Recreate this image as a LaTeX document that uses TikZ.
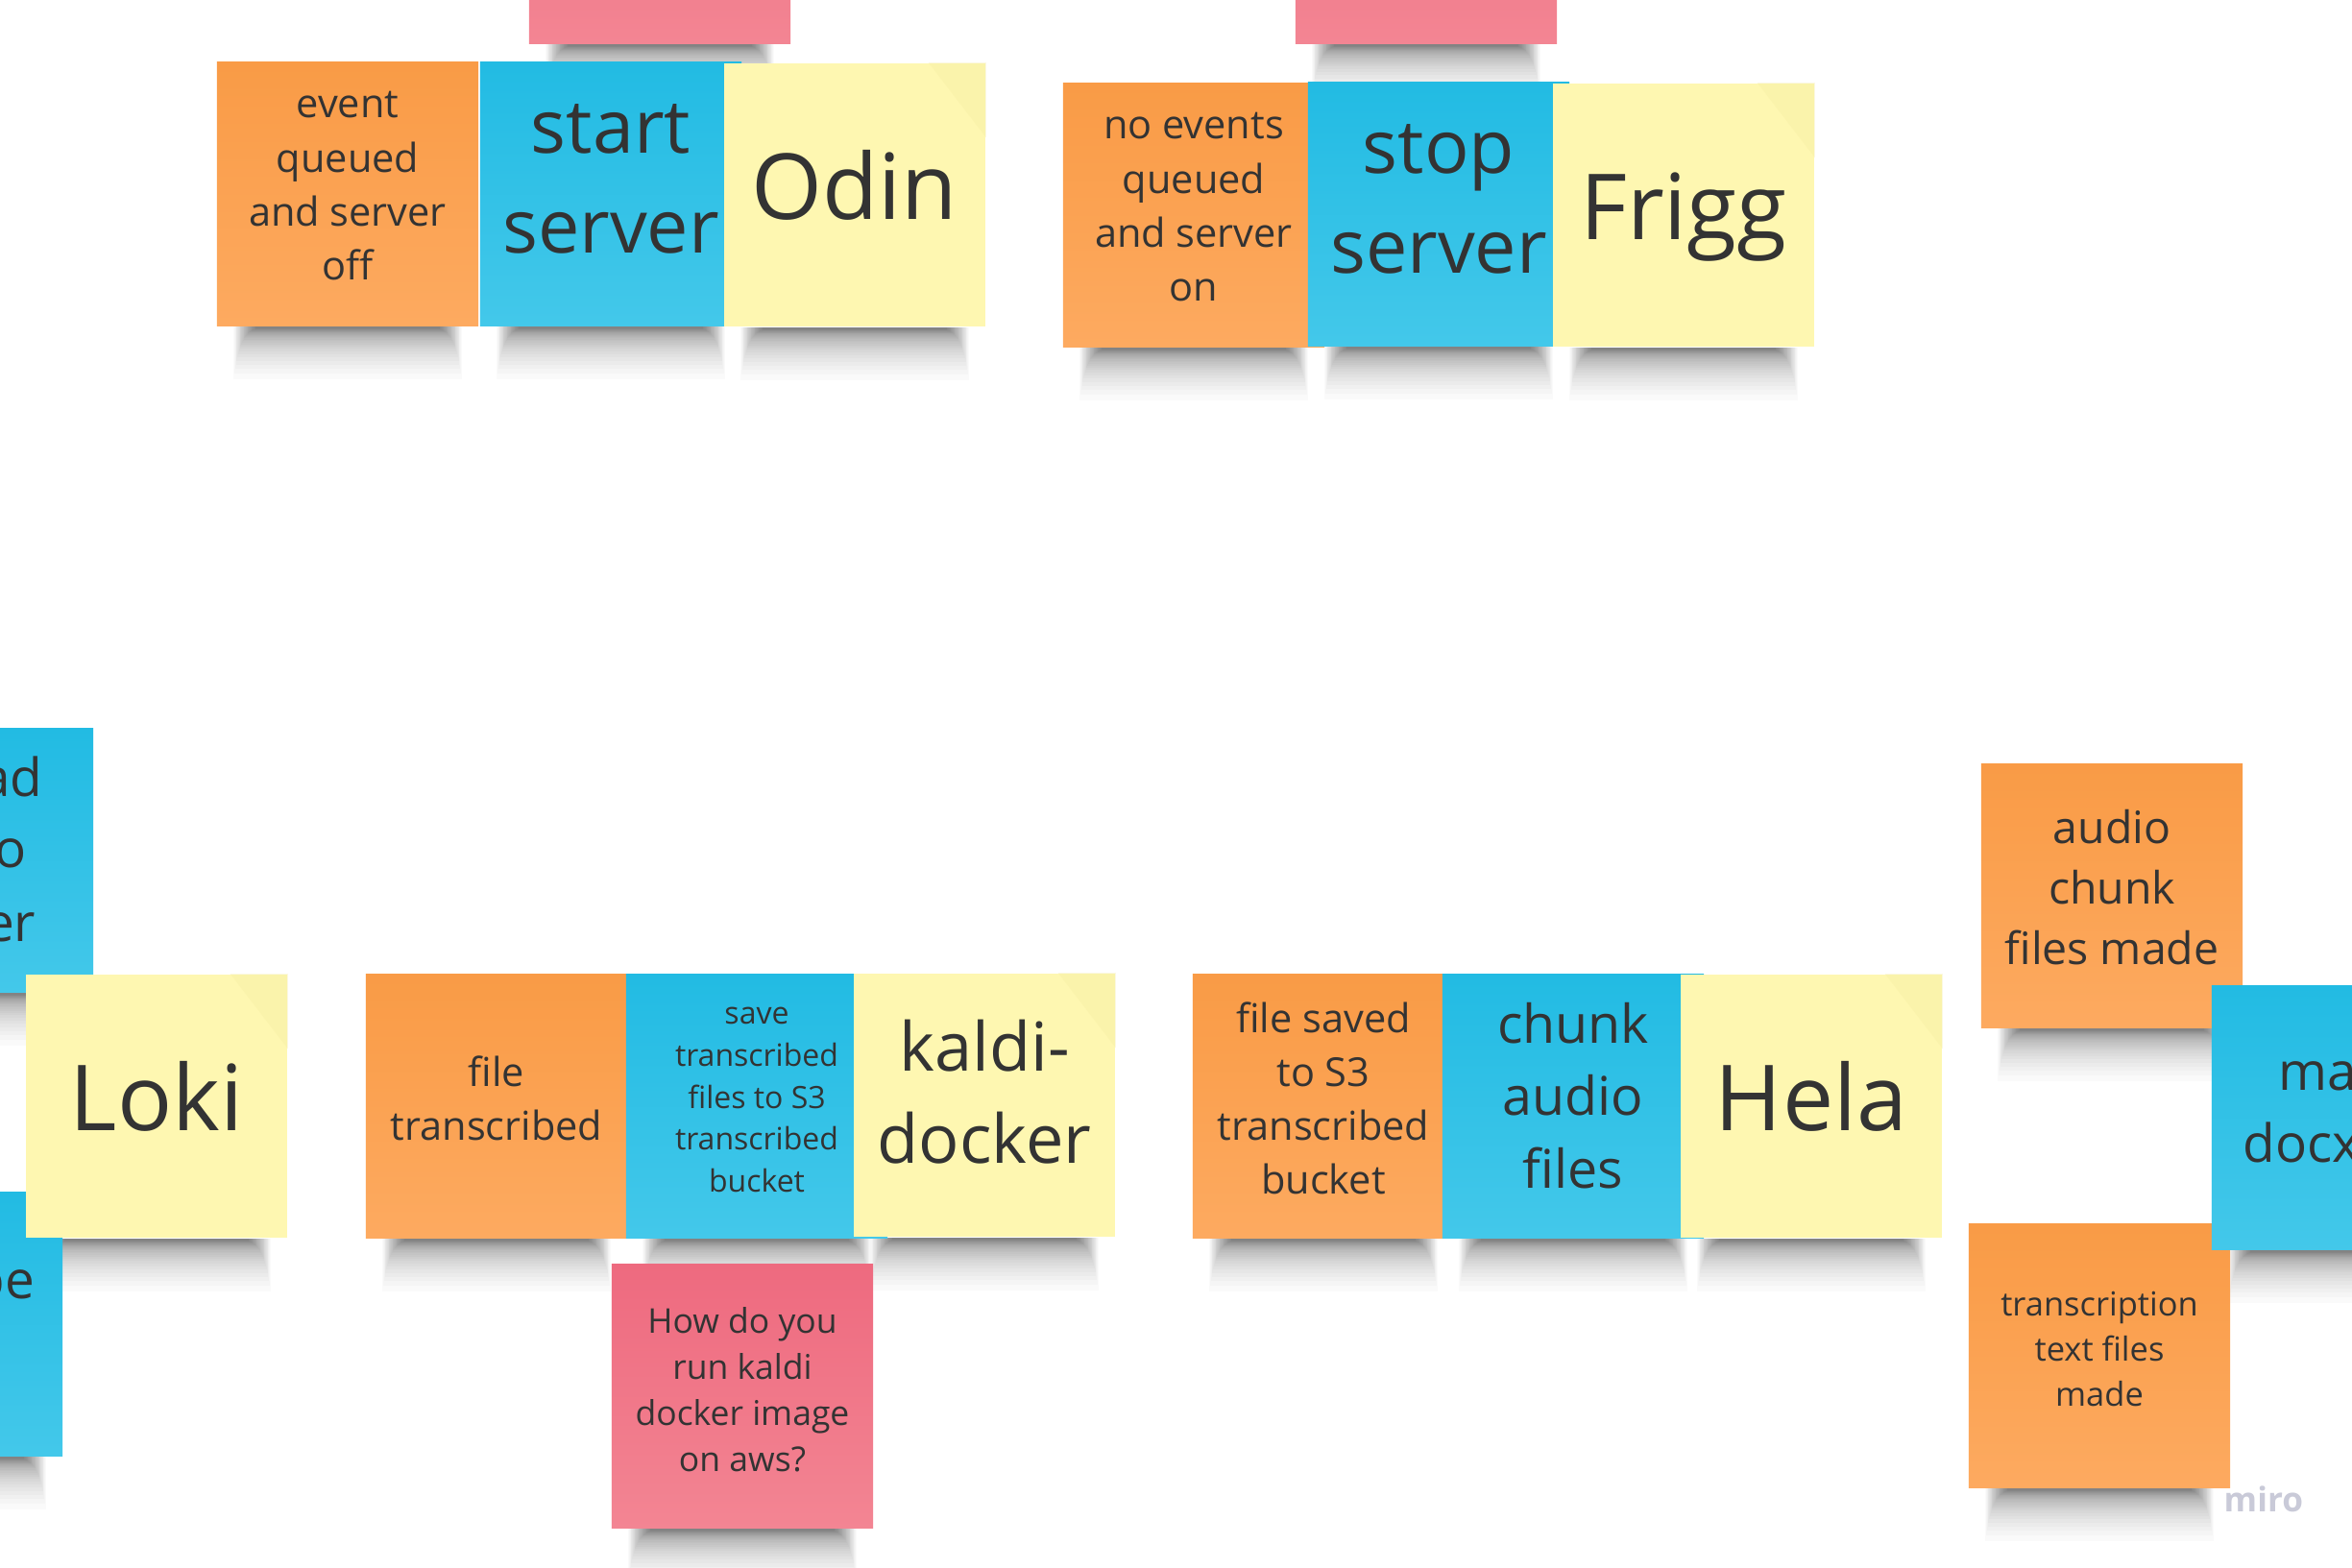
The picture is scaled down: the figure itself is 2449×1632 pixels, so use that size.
\documentclass[tikz,border=0pt]{standalone}
\usepackage{fontspec}
\setmainfont{Open Sans}
\usepackage{tikz}
\usetikzlibrary{calc}
\pgfdeclarelayer{paper}
\pgfdeclarelayer{shade}
\pgfsetlayers{paper,shade,main}
\definecolor{inkgray}{HTML}{333333}
\definecolor{orangetop}{HTML}{F99B46}
\definecolor{orangebot}{HTML}{FDAA60}
\definecolor{bluetop}{HTML}{22BBE3}
\definecolor{bluebot}{HTML}{43C8EA}
\definecolor{yellowfill}{HTML}{FEF7B1}
\definecolor{yellowfold}{HTML}{F4EA9E}
\definecolor{pinktop}{HTML}{EE6A7F}
\definecolor{pinkbot}{HTML}{F38593}
\definecolor{logogray}{HTML}{C9CAD8}
\tikzset{
  note/.style={rectangle, inner sep=0pt, minimum width=2.72cm, minimum height=2.74cm,
    align=center, text=inkgray,
    execute at begin node=\strut, execute at end node=\strut},
  orangenote/.style={note, top color=orangetop, bottom color=orangebot},
  bluenote/.style={note, top color=bluetop, bottom color=bluebot},
  yellownote/.style={note, fill=yellowfill},
  pinknote/.style={note, top color=pinktop, bottom color=pinkbot},
  godtxt/.style={font=\fontsize{27}{36.7}\selectfont},
  bigtxt/.style={font=\fontsize{22}{29.6}\selectfont},
  kalditxt/.style={font=\fontsize{20}{27.3}\selectfont},
  midtxt/.style={font=\fontsize{15.8}{21.4}\selectfont},
  chunktxt/.style={font=\fontsize{13.2}{17.9}\selectfont},
  smalltxt/.style={font=\fontsize{11.8}{16}\selectfont},
  howtxt/.style={font=\fontsize{10.1}{13.7}\selectfont},
  transtxt/.style={font=\fontsize{9.8}{13.3}\selectfont},
  savetxt/.style={font=\fontsize{9.1}{12.4}\selectfont},
  fragtxt/.style={inner sep=0pt, text=inkgray, font=\fontsize{15.6}{21.2}\selectfont},
}
% soft shadow under the lower edge of a note
\newcommand{\noteshadow}[1]{%
  \foreach \k in {0,...,29} {%
    \fill[black, opacity=0.02] ($(#1.south west)+({18+0.8*\k},0)$) rectangle ($(#1.south east)+({-18-0.8*\k},{55*0.9^\k})$);
  }}
% curled corner of a yellow note
\newcommand{\notefold}[1]{%
  \fill[yellowfold, opacity=0.3] ($(#1.north east)+(-60,0)$) -- (#1.north east) -- ($(#1.north east)+(0,78)$) -- cycle;}
\begin{document}
\begin{tikzpicture}[x=0.01cm, y=-0.01cm]
  \useasboundingbox (0,0) rectangle (2449,1632);
  \begin{pgfonlayer}{paper}
    \fill[white] (0,0) rectangle (2449,1632);
  \end{pgfonlayer}
  \clip (0,0) rectangle (2449,1632);

  \node[pinknote] (pinkA) at (687,-92) {};
  \node[pinknote] (pinkB) at (1485,-92) {};

  \node[orangenote, smalltxt] (evtq) at (362,202) {event\\queued\\and server\\off};
  \node[bluenote, bigtxt] (startsrv) at (636,202) {start\\server};
  \node[yellownote, godtxt] (odin) at (890,203) {Odin};

  \node[orangenote, smalltxt] (noevt) at (1243,224) {no events\\queued\\and server\\on};
  \node[bluenote, bigtxt] (stopsrv) at (1498,223) {stop\\server};
  \node[yellownote, godtxt] (frigg) at (1753,224) {Frigg};

  \node[bluenote] (upload) at (-39,896) {};
  \node[fragtxt, anchor=base east] (uploadA) at (45,829) {ad};
  \node[fragtxt, anchor=base east] (uploadB) at (28,903) {o};
  \node[fragtxt, anchor=base east] (uploadC) at (38,980) {er};
  \node[bluenote] (pe) at (-71,1379) {};
  \node[fragtxt, anchor=base east] (peA) at (37,1352) {pe};
  \node[yellownote, godtxt] (loki) at (163,1152) {Loki};

  \node[orangenote, smalltxt] (filetr) at (517,1152) {file\\transcribed};
  \node[bluenote, savetxt] (savetr) at (788,1152) {save\\transcribed\\files to S3\\transcribed\\bucket};
  \node[yellownote, kalditxt] (kaldi) at (1025,1151) {kaldi-\\docker};
  \node[pinknote, howtxt] (howdo) at (773,1454) {How do you\\run kaldi\\docker image\\on aws?};

  \node[orangenote, smalltxt] (filesv) at (1378,1152) {file saved\\to S3\\transcribed\\bucket};
  \node[bluenote, midtxt] (chunk) at (1638,1152) {chunk\\audio\\files};
  \node[yellownote, godtxt] (hela) at (1886,1152) {Hela};

  \node[orangenote, chunktxt] (audioch) at (2199,933) {audio\\chunk\\files made};
  \node[orangenote, transtxt] (transcr) at (2186,1412) {transcription\\text files\\made};
  \node[bluenote] (mkdocx) at (2439,1164) {};
  \node[fragtxt, anchor=base west] (mkdocxA) at (2372,1135) {ma};
  \node[fragtxt, anchor=base west] (mkdocxB) at (2335,1210) {docx};

  \node[anchor=base west, inner sep=0pt, text=logogray, font=\bfseries\fontsize{10}{12}\selectfont] (logo) at (2315,1574) {miro};

  \foreach \n in {odin, frigg, loki, kaldi, hela} {\notefold{\n}}

  \begin{pgfonlayer}{shade}
    \foreach \n in {pinkA, pinkB, evtq, startsrv, odin, noevt, stopsrv, frigg, upload, pe, loki,
      filetr, savetr, kaldi, howdo, filesv, chunk, hela, audioch, transcr, mkdocx} {\noteshadow{\n}}
  \end{pgfonlayer}
\end{tikzpicture}
\end{document}
